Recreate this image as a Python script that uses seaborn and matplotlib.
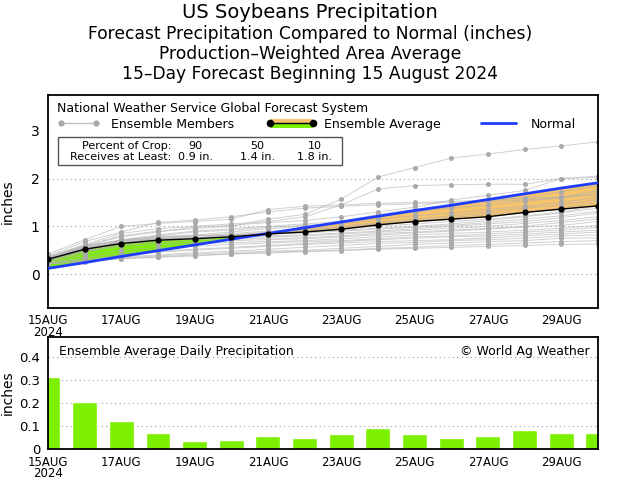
import numpy as np
import pandas as pd
import matplotlib
matplotlib.use("Agg")
import matplotlib.pyplot as plt
from matplotlib.lines import Line2D
from matplotlib.patches import Rectangle
from matplotlib.legend_handler import HandlerBase
import seaborn as sns

#------data--------------------

days = list(range(16))
tick_days = [0, 2, 4, 6, 8, 10, 12, 14]
tick_labels = ["15AUG\n2024", "17AUG", "19AUG", "21AUG", "23AUG", "25AUG", "27AUG", "29AUG"]

# ensemble average daily precip (inches)
daily_avg = [0.315, 0.204, 0.122, 0.069, 0.034, 0.040, 0.057, 0.046,
             0.065, 0.092, 0.066, 0.048, 0.055, 0.082, 0.071, 0.071]

# cumulative ensemble average
ens_avg = [0.31, 0.52, 0.64, 0.71, 0.74, 0.78, 0.84, 0.88,
           0.94, 1.03, 1.10, 1.15, 1.20, 1.29, 1.36, 1.43]

# cumulative normal
normal = [0.12, 0.24, 0.37, 0.49, 0.61, 0.73, 0.85, 0.97,
          1.09, 1.21, 1.33, 1.44, 1.56, 1.68, 1.80, 1.91]

# cumulative ensemble members
members = [
    [0.42, 0.72, 1.00, 1.06, 1.10, 1.15, 1.35, 1.42, 1.45, 1.48, 1.50, 1.52, 1.55, 1.58, 1.62, 1.65],
    [0.38, 0.68, 0.88, 1.08, 1.13, 1.20, 1.30, 1.38, 1.42, 1.45, 1.47, 1.50, 1.52, 1.55, 1.60, 1.70],
    [0.35, 0.60, 0.80, 0.90, 0.95, 1.00, 1.15, 1.25, 1.57, 2.03, 2.23, 2.43, 2.51, 2.61, 2.68, 2.77],
    [0.36, 0.62, 0.85, 0.95, 1.00, 1.05, 1.10, 1.20, 1.45, 1.78, 1.85, 1.87, 1.88, 1.88, 2.00, 2.02],
    [0.33, 0.58, 0.78, 0.88, 0.98, 1.02, 1.08, 1.12, 1.20, 1.30, 1.40, 1.55, 1.65, 1.75, 2.00, 2.05],
    [0.30, 0.55, 0.72, 0.82, 0.90, 0.95, 1.00, 1.05, 1.10, 1.25, 1.35, 1.45, 1.55, 1.60, 1.72, 1.85],
    [0.32, 0.50, 0.70, 0.80, 0.88, 0.92, 0.98, 1.02, 1.08, 1.20, 1.30, 1.38, 1.45, 1.52, 1.60, 1.75],
    [0.28, 0.52, 0.68, 0.78, 0.82, 0.88, 0.95, 1.00, 1.05, 1.15, 1.22, 1.28, 1.35, 1.42, 1.50, 1.60],
    [0.30, 0.48, 0.65, 0.74, 0.80, 0.85, 0.90, 0.95, 1.00, 1.08, 1.15, 1.22, 1.30, 1.38, 1.45, 1.55],
    [0.27, 0.45, 0.62, 0.70, 0.76, 0.82, 0.88, 0.92, 0.98, 1.05, 1.12, 1.18, 1.25, 1.30, 1.38, 1.50],
    [0.32, 0.55, 0.66, 0.72, 0.76, 0.80, 0.85, 0.90, 0.95, 1.00, 1.05, 1.10, 1.15, 1.22, 1.30, 1.42],
    [0.34, 0.58, 0.70, 0.76, 0.80, 0.82, 0.86, 0.88, 0.92, 0.96, 1.00, 1.05, 1.12, 1.20, 1.28, 1.38],
    [0.33, 0.56, 0.72, 0.78, 0.80, 0.82, 0.84, 0.86, 0.90, 0.94, 0.98, 1.02, 1.08, 1.15, 1.22, 1.32],
    [0.31, 0.54, 0.67, 0.74, 0.76, 0.78, 0.80, 0.82, 0.86, 0.90, 0.95, 1.00, 1.05, 1.10, 1.18, 1.28],
    [0.35, 0.60, 0.70, 0.74, 0.76, 0.77, 0.78, 0.80, 0.84, 0.88, 0.92, 0.96, 1.00, 1.06, 1.12, 1.20],
    [0.32, 0.53, 0.65, 0.70, 0.72, 0.73, 0.75, 0.76, 0.80, 0.85, 0.88, 0.92, 0.96, 1.00, 1.08, 1.15],
    [0.30, 0.50, 0.62, 0.66, 0.68, 0.70, 0.72, 0.74, 0.78, 0.82, 0.86, 0.90, 0.94, 0.98, 1.02, 1.10],
    [0.29, 0.48, 0.58, 0.62, 0.64, 0.66, 0.68, 0.70, 0.74, 0.78, 0.82, 0.85, 0.88, 0.92, 0.96, 1.02],
    [0.26, 0.40, 0.50, 0.55, 0.58, 0.62, 0.65, 0.68, 0.70, 0.74, 0.78, 0.80, 0.84, 0.88, 0.92, 0.98],
    [0.24, 0.35, 0.44, 0.48, 0.52, 0.56, 0.60, 0.64, 0.68, 0.72, 0.75, 0.78, 0.80, 0.84, 0.88, 0.92],
    [0.22, 0.30, 0.40, 0.46, 0.50, 0.54, 0.58, 0.62, 0.65, 0.68, 0.70, 0.72, 0.76, 0.80, 0.84, 0.88],
    [0.23, 0.31, 0.36, 0.40, 0.45, 0.48, 0.52, 0.56, 0.60, 0.64, 0.66, 0.70, 0.72, 0.75, 0.80, 0.82],
    [0.22, 0.28, 0.34, 0.38, 0.42, 0.45, 0.48, 0.50, 0.54, 0.58, 0.62, 0.65, 0.68, 0.70, 0.75, 0.76],
    [0.21, 0.27, 0.33, 0.36, 0.40, 0.42, 0.46, 0.48, 0.50, 0.54, 0.56, 0.60, 0.62, 0.65, 0.68, 0.70],
    [0.22, 0.26, 0.32, 0.35, 0.38, 0.42, 0.44, 0.47, 0.49, 0.52, 0.54, 0.56, 0.58, 0.60, 0.62, 0.63],
]

crop_pct = [90, 50, 10]
crop_amt = ["0.9 in.", "1.4 in.", "1.8 in."]

GREEN = "#7cf000"
ORANGE = "#f7c46c"
GRAY = "#b0b0b0"
DOT = "#aaaaaa"
BLUE = "#1e3cff"

#---------------------------------------

sns.set_style("white")
plt.rcParams["font.family"] = ["DejaVu Sans"]
plt.rcParams["text.color"] = "black"
plt.rcParams["axes.labelcolor"] = "black"
plt.rcParams["xtick.color"] = "black"
plt.rcParams["ytick.color"] = "black"
tickfont = dict(family=["Liberation Sans Narrow", "DejaVu Sans"], size=8.5)

fig = plt.figure(figsize=(6.2, 4.8), dpi=100)
ax1 = fig.add_axes([0.0774, 0.3583, 0.887, 0.444])
ax2 = fig.add_axes([0.0774, 0.0646, 0.887, 0.2333])

df = pd.DataFrame([(m, d, v) for m, row in enumerate(members) for d, v in zip(days, row)],
                  columns=["member", "day", "precip"])

avg = np.array(ens_avg)
nrm = np.array(normal)
ax1.fill_between(days, nrm, avg, where=avg >= nrm, interpolate=True, color=GREEN, lw=0, zorder=1)
ax1.fill_between(days, nrm, avg, where=avg < nrm, interpolate=True, color=ORANGE, lw=0, zorder=1)

sns.lineplot(data=df, x="day", y="precip", units="member", estimator=None, color=GRAY,
             lw=0.7, alpha=0.6, legend=False, ax=ax1, zorder=2)
sns.scatterplot(data=df, x="day", y="precip", color=DOT, s=13, linewidth=0,
                legend=False, ax=ax1, zorder=2.5)
sns.lineplot(x=days, y=normal, color=BLUE, lw=2, ax=ax1, zorder=3)
sns.lineplot(x=days, y=ens_avg, color="black", lw=1, marker="o", markersize=4.5,
             markeredgewidth=0, ax=ax1, zorder=4)

ax1.set_xlim(0, 15)
ax1.set_ylim(-0.71, 3.75)
ax1.set_yticks([0, 1, 2, 3])
ax1.grid(axis="y", color="#999999", ls=(0, (1, 3)), lw=0.8)
ax1.get_ygridlines()[3].set_visible(False)
ax1.set_ylabel("inches", fontsize=10)
ax1.set_xlabel("")

# legend
class AvgHandler(HandlerBase):
    def create_artists(self, legend, orig, xd, yd, w, h, fs, trans):
        top = Rectangle((xd, yd + h / 2), w, h / 2, fc=ORANGE, ec="none", transform=trans)
        bot = Rectangle((xd, yd), w, h / 2, fc=GREEN, ec="none", transform=trans)
        ln = Line2D([xd, xd + w], [yd + h / 2] * 2, color="black", lw=1, marker="o",
                    markersize=4.5, transform=trans)
        return [top, bot, ln]

h_mem = Line2D([0], [0], color="#c0c0c0", lw=1, marker="o", markersize=4.5, markeredgewidth=0,
               markerfacecolor=DOT)
h_avg = object()
h_nrm = Line2D([0], [0], color=BLUE, lw=2)
leg = ax1.legend([h_mem, h_avg, h_nrm], ["Ensemble Members", "Ensemble Average", "Normal"],
                 handler_map={h_avg: AvgHandler()}, ncol=3, numpoints=2,
                 title="National Weather Service Global Forecast System", title_fontsize=9,
                 alignment="left", fontsize=9, frameon=False, loc="upper left",
                 bbox_to_anchor=(-0.004, 1.02), handlelength=3.4, handletextpad=0.9,
                 columnspacing=2.9, borderpad=0.4)
leg._legend_box.sep = 2

# percent of crop box
ax1.add_patch(Rectangle((0.018, 0.671), 0.517, 0.132, transform=ax1.transAxes,
                        fill=False, ec="#555555", lw=1, zorder=5))
ax1.text(0.225, 0.759, "Percent of Crop:", transform=ax1.transAxes, ha="right", va="center", fontsize=8)
ax1.text(0.225, 0.707, "Receives at Least:", transform=ax1.transAxes, ha="right", va="center", fontsize=8)
for cx, p, a in zip([0.268, 0.381, 0.485], crop_pct, crop_amt):
    ax1.text(cx, 0.759, str(p), transform=ax1.transAxes, ha="center", va="center", fontsize=8)
    ax1.text(cx, 0.707, a, transform=ax1.transAxes, ha="center", va="center", fontsize=8)

# bottom bars
sns.barplot(x=days, y=daily_avg, color=GREEN, saturation=1, width=0.68, ax=ax2, zorder=2)
ax2.set_xlim(0, 15)
ax2.set_ylim(0, 0.487)
ax2.set_yticks([0, 0.1, 0.2, 0.3, 0.4])
ax2.set_yticklabels(["0", "0.1", "0.2", "0.3", "0.4"])
ax2.grid(axis="y", color="#999999", ls=(0, (1, 3)), lw=0.8, zorder=0)
ax2.set_axisbelow(True)
ax2.set_ylabel("inches", fontsize=10)
ax2.text(0.02, 0.93, "Ensemble Average Daily Precipitation", transform=ax2.transAxes,
         ha="left", va="top", fontsize=9)
ax2.text(0.985, 0.93, "\u00a9 World Ag Weather", transform=ax2.transAxes,
         ha="right", va="top", fontsize=9)

for ax in (ax1, ax2):
    ax.set_xticks(tick_days)
    ax.set_xticklabels(tick_labels, fontdict=tickfont, linespacing=0.85)
    ax.tick_params(axis="x", direction="inout", length=5, width=1, pad=2)
    ax.tick_params(axis="y", direction="out", length=4, width=1, labelsize=10, pad=2)
    ax.yaxis.set_label_coords(-0.06, 0.5)
    for s in ax.spines.values():
        s.set_linewidth(1.3)
        s.set_color("black")
ax2.tick_params(axis="y", labelsize=9.5, pad=1.5)
ax2.tick_params(axis="x", pad=2.5)

# titles
fig.text(0.5, 1 - 12 / 480, "US Soybeans Precipitation", ha="center", va="center", fontsize=14)
fig.text(0.5, 1 - 34 / 480, "Forecast Precipitation Compared to Normal (inches)",
         ha="center", va="center", fontsize=12.3)
fig.text(0.5, 1 - 54 / 480, "Production\u2013Weighted Area Average", ha="center", va="center", fontsize=12.3)
fig.text(0.5, 1 - 74 / 480, "15\u2013Day Forecast Beginning 15 August 2024",
         ha="center", va="center", fontsize=12.3)

fig.savefig("out.png", dpi=100)
